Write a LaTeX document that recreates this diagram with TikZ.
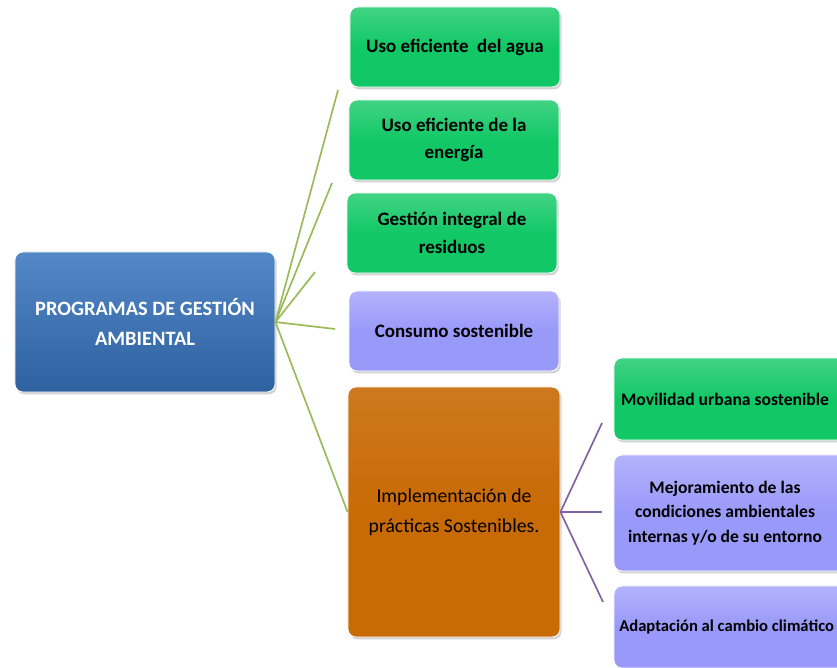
\documentclass[tikz,border=0pt]{standalone}
\usepackage{fontspec}
\setmainfont{Carlito}
\usetikzlibrary{shadows}

\definecolor{boxgreen}{HTML}{12C866}
\definecolor{boxlila}{HTML}{9999FA}
\definecolor{boxorange}{HTML}{C86A06}
\definecolor{boxblue}{HTML}{3672BC}
\definecolor{lnkgreen}{HTML}{9BBB59}
\definecolor{lnkpurple}{HTML}{8064A2}

\begin{document}
\begin{tikzpicture}[x=0.025cm, y=-0.025cm, every node/.style={font=\bfseries\fontsize{13.5}{19.5}\selectfont},
	box/.style={rectangle, rounded corners=0.2cm, align=center, inner sep=2pt, draw=white, line width=0.6pt, drop shadow={opacity=0.35, shadow xshift=0.04cm, shadow yshift=-0.06cm}},
	gbox/.style={box, top color=boxgreen!80!white, bottom color=boxgreen, middle color=boxgreen, minimum width=5.25cm, minimum height=2cm},
	lbox/.style={box, top color=boxlila!75!white, bottom color=boxlila, middle color=boxlila, minimum width=5.25cm, minimum height=2cm},
	subtxt/.style={inner sep=0pt, align=center, font=\bfseries\fontsize{12.5}{17.5}\selectfont},
	lnk/.style={lnkgreen, line width=1.2pt},
	sublnk/.style={lnkpurple, line width=1.2pt}]
	\useasboundingbox (0,0) rectangle (837,667);
	\node[box, top color=boxblue!85!white, bottom color=boxblue!85!black, text=white, minimum width=6.5cm, minimum height=3.5cm, font=\bfseries\fontsize{14.5}{21}\selectfont] (prog) at (145,322) {PROGRAMAS DE GESTIÓN\\AMBIENTAL};
	\node[gbox] (agua) at (455,47) {Uso eficiente \ del agua};
	\node[gbox] (energia) at (454,140) {Uso eficiente de la\\energía};
	\node[gbox] (residuos) at (452,233) {Gestión integral de\\residuos};
	\node[lbox] (consumo) at (454,331) {Consumo sostenible};
	\node[box, top color=boxorange!90!white, bottom color=boxorange, middle color=boxorange, minimum width=5.3cm, minimum height=6.25cm, font=\fontsize{14}{21}\selectfont] (practicas) at (454,512) {Implementación de\\prácticas Sostenibles.};
	% right column: boxes run past the edge, texts kept inside
	\node[gbox, minimum width=5.9cm, minimum height=2.05cm] (movilidad) at (732,399) {};
	\node[lbox, minimum width=5.9cm, minimum height=2.9cm] (mejora) at (732,513) {};
	\node[lbox, minimum width=5.9cm, minimum height=2.05cm] (clima) at (732,627) {};
	\node[subtxt] (movtxt) at (725,399) {Movilidad urbana sostenible};
	\node[subtxt] (mejtxt) at (725,513) {Mejoramiento de las\\condiciones ambientales\\internas y/o de su entorno};
	\node[subtxt, anchor=west, font=\bfseries\fontsize{11.8}{15}\selectfont] (climatxt) at (619,627) {Adaptación al cambio climático};
	% free ends of the connectors
	\coordinate (g1) at (338,90);
	\coordinate (g2) at (332,183);
	\coordinate (g3) at (315,272);
	\coordinate (g4) at (335,329);
	\coordinate (p1) at (602,423);
	\coordinate (p2) at (602,512);
	\coordinate (p3) at (603,602);
	\foreach \e in {g1, g2, g3, g4} {\draw[lnk] (prog.east) -- (\e);}
	\draw[lnk] (prog.east) -- (practicas.west);
	\foreach \e in {p1, p2, p3} {\draw[sublnk] (practicas.east) -- (\e);}
\end{tikzpicture}
\end{document}
